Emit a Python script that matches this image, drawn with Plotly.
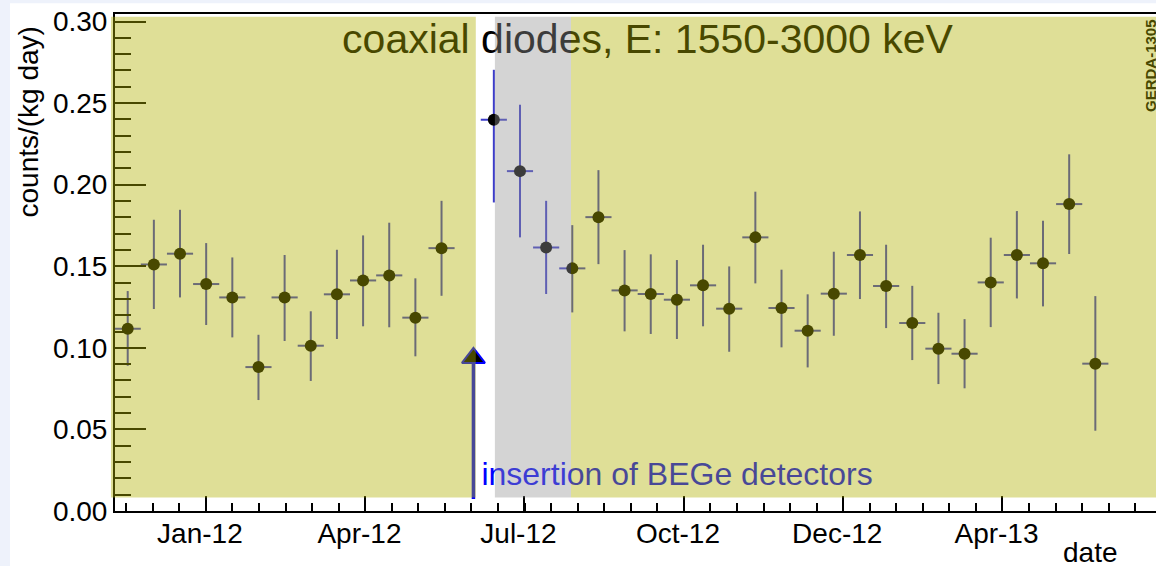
import numpy as np
import plotly.graph_objects as go

# ---- measurements: background rate per bin (bin 13 has no data) ----
bins = list(range(0, 13)) + list(range(14, 38))
rate = [0.1117, 0.1511, 0.1577, 0.1391, 0.1309, 0.0882, 0.1309, 0.1013, 0.1328,
        0.1413, 0.1444, 0.1185, 0.1611,
        0.2398, 0.2083, 0.1615, 0.1487, 0.1801, 0.1352, 0.1330, 0.1295, 0.1383,
        0.1240, 0.1677, 0.1244, 0.1105, 0.1332, 0.1569, 0.1379, 0.1152, 0.0995,
        0.0964, 0.1401, 0.1569, 0.1518, 0.1881, 0.0903]
err_up = [0.0231, 0.0274, 0.0269, 0.0251, 0.0245, 0.0198, 0.0260, 0.0211, 0.0273,
          0.0276, 0.0323, 0.0241, 0.0290,
          0.0306, 0.0407, 0.0286, 0.0265, 0.0288, 0.0247, 0.0243, 0.0243, 0.0249,
          0.0259, 0.0280, 0.0235, 0.0223, 0.0257, 0.0267, 0.0253, 0.0228, 0.0220,
          0.0212, 0.0274, 0.0269, 0.0261, 0.0305, 0.0414]
err_down = [0.0227, 0.0273, 0.0268, 0.0251, 0.0245, 0.0202, 0.0267, 0.0216, 0.0274,
            0.0281, 0.0318, 0.0237, 0.0292,
            0.0507, 0.0406, 0.0285, 0.0270, 0.0288, 0.0251, 0.0245, 0.0241, 0.0251,
            0.0264, 0.0282, 0.0241, 0.0225, 0.0258, 0.0270, 0.0258, 0.0227, 0.0217,
            0.0212, 0.0274, 0.0266, 0.0264, 0.0306, 0.0411]
bin_half_width = [0.5] * len(bins)

# ---- date axis labels (positions in bin units) ----
tick_pos = [2.99, 9.09, 15.17, 21.27, 27.36, 33.45]
tick_text = ["Jan-12", "Apr-12", "Jul-12", "Oct-12", "Dec-12", "Apr-13"]

# ---- highlighted periods (bin units) ----
yellow_spans = [(-0.64, 13.31), (16.95, 41.0)]
gray_span = (14.04, 16.95)
span_y = (0.0082, 0.3029)

# BEGe insertion marker
bege_bin = 13.22
bege_arrow_y = (0.0074, 0.0915)
bege_tip_y = 0.0938

X_RANGE = [-0.486, 39.32]
Y_RANGE = [0.0, 0.3046]

W, H = 1156, 566
ML, MR, MT, MB = 115, 0, 14, 55
PW, PH = W - ML - MR, H - MT - MB

FONT = "Liberation Sans, Arial, sans-serif"
ERR_COLOR = "rgb(60,60,200)"


def xp(v):
    return (v - X_RANGE[0]) / (X_RANGE[1] - X_RANGE[0])


def yp(v):
    return (v - Y_RANGE[0]) / (Y_RANGE[1] - Y_RANGE[0])


def px_x(p):
    return (p - ML) / PW


def px_y(p):
    return (H - MB - p) / PH


fig = go.Figure()

# data points
fig.add_trace(go.Scatter(
    x=bins, y=rate, mode="markers",
    marker=dict(color="black", size=12, line=dict(width=0)),
    error_y=dict(type="data", symmetric=False, array=err_up, arrayminus=err_down,
                 color=ERR_COLOR, thickness=2, width=0),
    error_x=dict(type="data", array=bin_half_width, color=ERR_COLOR, thickness=2, width=0),
    showlegend=False, hoverinfo="x+y",
))

# BEGe insertion arrow
fig.add_trace(go.Scatter(
    x=[bege_bin, bege_bin], y=list(bege_arrow_y), mode="lines",
    line=dict(color="blue", width=3.5), showlegend=False, hoverinfo="skip",
))
fig.add_trace(go.Scatter(
    x=[bege_bin], y=[bege_tip_y], mode="markers",
    marker=dict(symbol="triangle-up", size=20, color="black",
                line=dict(color="blue", width=2)),
    showlegend=False, hoverinfo="skip",
))

# texts inside the frame (kept under the highlight bands)
fig.add_trace(go.Scatter(
    x=[19.877], y=[0.2868], mode="text",
    text=["coaxial diodes, E: 1550-3000 keV"], textposition="middle center",
    textfont=dict(family=FONT, size=41, color="black"),
    showlegend=False, hoverinfo="skip", cliponaxis=False,
))
fig.add_trace(go.Scatter(
    x=[21.006], y=[0.0211], mode="text",
    text=["insertion of BEGe detectors"], textposition="middle center",
    textfont=dict(family=FONT, size=32, color="blue"),
    showlegend=False, hoverinfo="skip", cliponaxis=False,
))

shapes = []
# page border tint
shapes.append(dict(type="rect", xref="paper", yref="paper", layer="below",
                   x0=px_x(0), x1=px_x(10), y0=px_y(H), y1=px_y(0),
                   fillcolor="#eef2fb", line=dict(width=0)))
shapes.append(dict(type="rect", xref="paper", yref="paper", layer="below",
                   x0=px_x(0), x1=px_x(W), y0=px_y(3.3), y1=px_y(0),
                   fillcolor="#eef2fb", line=dict(width=0)))
# highlight bands
for a, b in yellow_spans:
    shapes.append(dict(type="rect", xref="paper", yref="paper", layer="above",
                       x0=xp(a), x1=xp(b), y0=yp(span_y[0]), y1=yp(span_y[1]),
                       fillcolor="rgba(176,176,0,0.408)", line=dict(width=0)))
shapes.append(dict(type="rect", xref="paper", yref="paper", layer="above",
                   x0=xp(gray_span[0]), x1=xp(gray_span[1]),
                   y0=yp(span_y[0]), y1=yp(span_y[1]),
                   fillcolor="rgba(148,148,148,0.404)", line=dict(width=0)))

step = (tick_pos[-1] - tick_pos[0]) / (len(tick_pos) - 1) / 6
minor_x = np.arange(tick_pos[0] - 3 * step, X_RANGE[1], step).tolist()

fig.update_layout(
    width=W, height=H,
    margin=dict(l=ML, r=MR, t=MT, b=MB, pad=0),
    paper_bgcolor="white", plot_bgcolor="white",
    shapes=shapes,
    showlegend=False,
    font=dict(family=FONT, color="black"),
    xaxis=dict(
        range=X_RANGE, showgrid=False, zeroline=False,
        showline=True, linecolor="black", linewidth=2, mirror=True,
        tickmode="array", tickvals=tick_pos, ticktext=tick_text,
        ticks="inside", ticklen=15, tickwidth=1.5, tickcolor="black",
        tickfont=dict(family=FONT, size=28, color="black"),
        ticklabelshift=-6, ticklabelstandoff=-4,
        minor=dict(tickmode="array", tickvals=minor_x, ticks="inside",
                   ticklen=8, tickwidth=1.5, tickcolor="black", showgrid=False),
    ),
    yaxis=dict(
        range=Y_RANGE, showgrid=False, zeroline=False,
        showline=True, linecolor="black", linewidth=2, mirror=False,
        tickmode="linear", tick0=0, dtick=0.05, tickformat=".2f",
        ticks="inside", ticklen=31, tickwidth=1.5, tickcolor="black",
        tickfont=dict(family=FONT, size=28, color="black"),
        minor=dict(dtick=0.01, ticks="inside", ticklen=16, tickwidth=1.5,
                   tickcolor="black", showgrid=False),
    ),
    annotations=[
        dict(text="counts/(kg day)", textangle=-90, showarrow=False,
             xref="paper", yref="paper", x=px_x(28.5), y=px_y(122),
             xanchor="center", yanchor="middle",
             font=dict(family=FONT, size=28, color="black")),
        dict(text="date", showarrow=False,
             xref="paper", yref="paper", x=px_x(1090.5), y=px_y(535),
             xanchor="center", yanchor="top",
             font=dict(family=FONT, size=28, color="black")),
        dict(text="<b>GERDA-1305</b>", textangle=-90, showarrow=False,
             xref="paper", yref="paper", x=px_x(1150), y=px_y(66),
             xanchor="center", yanchor="middle",
             font=dict(family=FONT, size=15, color="rgb(72,72,0)")),
    ],
)

fig.write_html("out.html")
